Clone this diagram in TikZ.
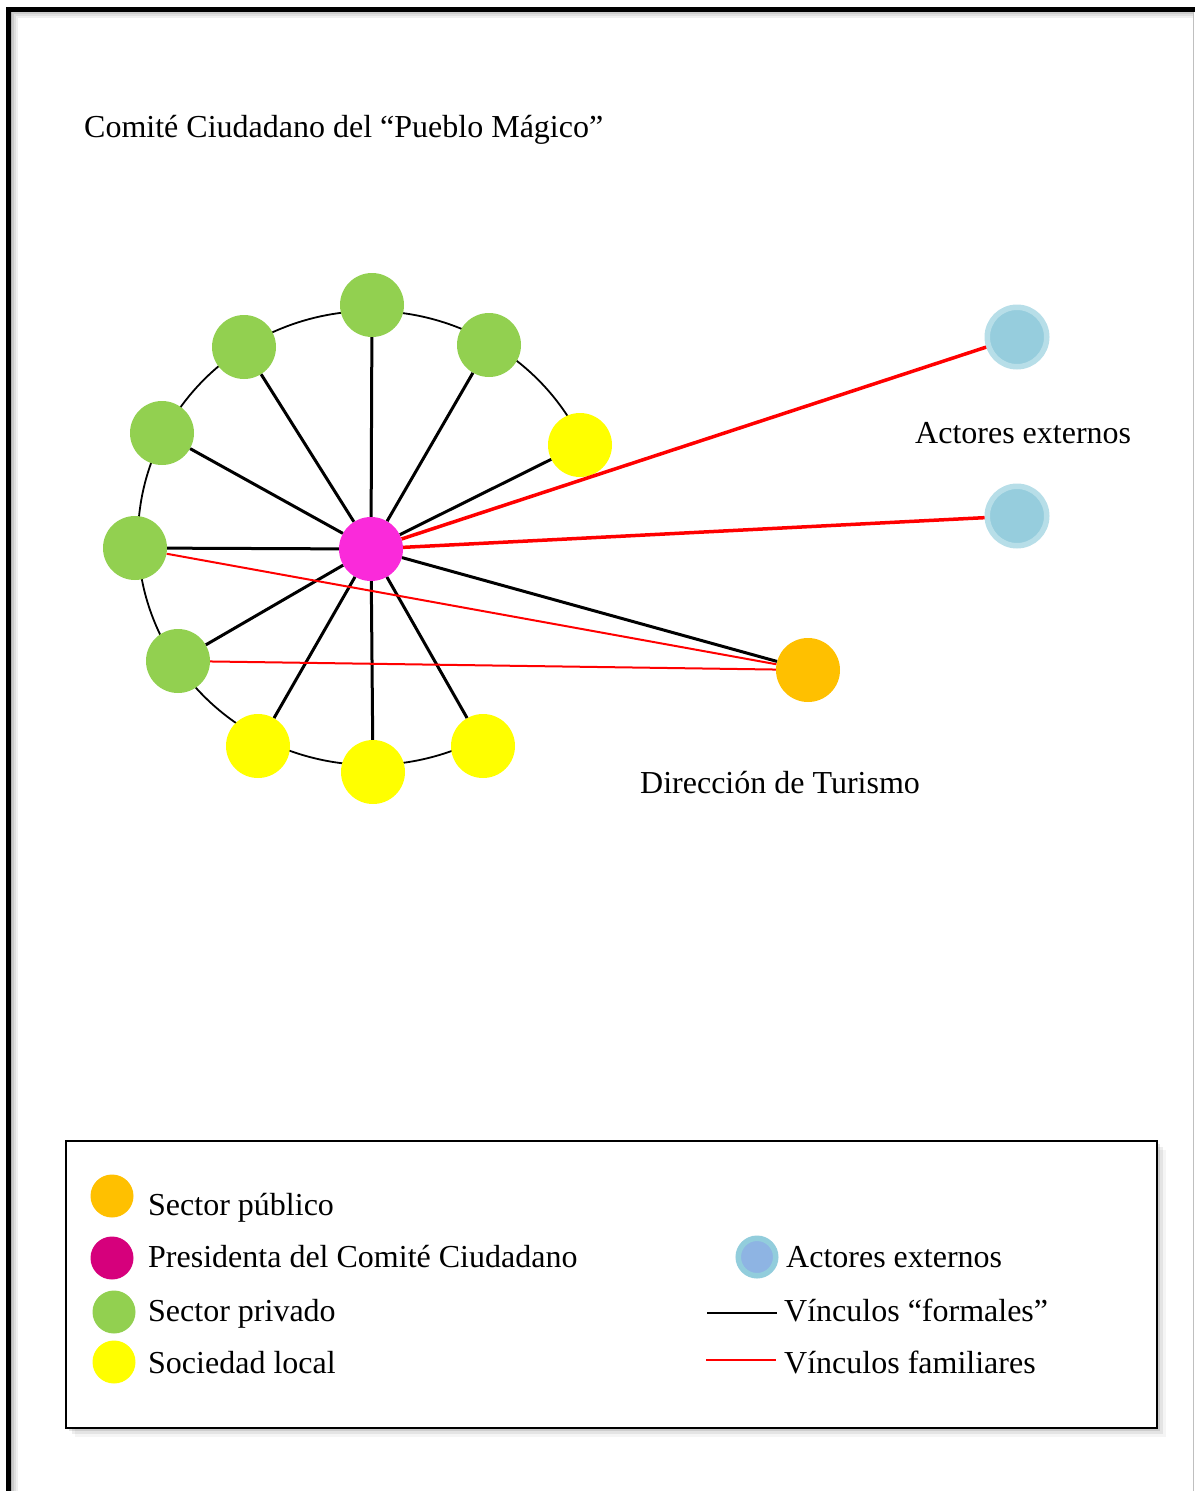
\documentclass[tikz,border=0pt]{standalone}
\usepackage{fontspec}
\setmainfont{Liberation Serif}
\definecolor{grn1}{RGB}{146, 208, 80}
\definecolor{ylw1}{RGB}{255, 255, 0}
\definecolor{org1}{RGB}{255, 192, 0}
\definecolor{pnk1}{RGB}{250, 42, 218}
\definecolor{mag1}{RGB}{214, 0, 124}
\definecolor{extfill}{RGB}{150, 205, 221}
\definecolor{extring}{RGB}{183, 222, 232}
\definecolor{legblue}{RGB}{142, 180, 227}
\definecolor{legring}{RGB}{146, 205, 220}
\usetikzlibrary{positioning}

\begin{document}
\begin{tikzpicture}[x=1pt, y=-1pt,
  nd/.style={fill=#1, circle, minimum size=64pt, inner sep=0pt},
  lnd/.style={fill=#1, circle, minimum size=43pt, inner sep=0pt},
  ext/.style={fill=extfill, draw=extring, line width=5.5pt, circle, minimum size=59.5pt, inner sep=0pt},
  lbl/.style={font=\fontsize{32}{38}\selectfont, inner sep=0pt, anchor=base west},
  spoke/.style={line width=3pt},
  fam/.style={red, line width=#1},
]
  \useasboundingbox (0,0) rectangle (1195,1491);
  % frame with inner shadow
  \foreach \d/\o in {2/0.30, 4/0.20, 6/0.12, 8/0.06}
    \draw[black, opacity=\o, line width=2pt] (8.5+\d,1491) -- (8.5+\d,9+\d) -- (1193,9+\d);
  \draw[line width=5pt] (8.5,1491) -- (8.5,9) -- (1195,9);
  \draw[black!25, line width=1pt] (1193,12) -- (1193,1491);

  \node[lbl] (ttl) at (84,137) {Comité Ciudadano del “Pueblo Mágico”};

  % ring, open on the right side
  \draw[line width=1.8pt] (371,538) ++(24:233pt and 227pt)
    arc[start angle=24, end angle=299, x radius=233pt, y radius=227pt];

  % nodes
  \node[nd=pnk1] (pres) at (371,549) {};
  \node[nd=grn1] (g1) at (372,305) {};
  \node[nd=grn1] (g2) at (244,347) {};
  \node[nd=grn1] (g3) at (162,433) {};
  \node[nd=grn1] (g4) at (135,548) {};
  \node[nd=grn1] (g5) at (178,661) {};
  \node[nd=grn1] (g6) at (489,345) {};
  \node[nd=ylw1] (y1) at (580,445) {};
  \node[nd=ylw1] (y2) at (258,746) {};
  \node[nd=ylw1] (y3) at (373,772) {};
  \node[nd=ylw1] (y4) at (483,746) {};
  \node[nd=org1] (dir) at (808,670) {};
  \node[ext] (ext1) at (1017,337) {};
  \node[ext] (ext2) at (1017,516) {};

  \node[lbl] (extlbl) at (915,443) {Actores externos};
  \node[lbl] (dirlbl) at (640,793) {Dirección de Turismo};

  % links
  \foreach \n in {g1, g2, g3, g4, g5, g6, y1, y2, y3, y4, dir}
    \draw[spoke] (pres) -- (\n);
  \draw[fam=3.5pt] (pres) -- (ext1);
  \draw[fam=3.5pt] (pres) -- (ext2);
  \draw[fam=2pt] (g4) -- (dir);
  \draw[fam=2pt] (g5) -- (dir);

  % legend
  \foreach \d/\o in {3/0.10, 6/0.07, 9/0.04}
    \fill[black, opacity=\o] (66+\d,1141+\d) rectangle (1157+\d,1428+\d);
  \draw[line width=2.5pt, fill=white] (66,1141) rectangle (1157,1428);

  \node[lnd=org1] (lorg) at (112,1196) {};
  \node[lnd=mag1] (lmag) at (112,1258) {};
  \node[lnd=grn1] (lgrn) at (114,1312) {};
  \node[lnd=ylw1] (lylw) at (114,1362) {};
  \node[lbl] at (148,1215) {Sector público};
  \node[lbl] at (148,1267) {Presidenta del Comité Ciudadano};
  \node[lbl] at (148,1321) {Sector privado};
  \node[lbl] at (148,1373) {Sociedad local};

  \node[circle, fill=legblue, draw=legring, line width=5.5pt, minimum size=37.5pt, inner sep=0pt] (lext) at (757,1257) {};
  \node[lbl] at (786,1267) {Actores externos};
  \coordinate (lf1) at (707,1313);
  \coordinate (lf2) at (777,1313);
  \draw[line width=2pt] (lf1) -- (lf2);
  \node[lbl] at (784,1321) {Vínculos “formales”};
  \coordinate (lr1) at (706,1360);
  \coordinate (lr2) at (776,1360);
  \draw[fam=2pt] (lr1) -- (lr2);
  \node[lbl] at (784,1373) {Vínculos familiares};
\end{tikzpicture}
\end{document}
